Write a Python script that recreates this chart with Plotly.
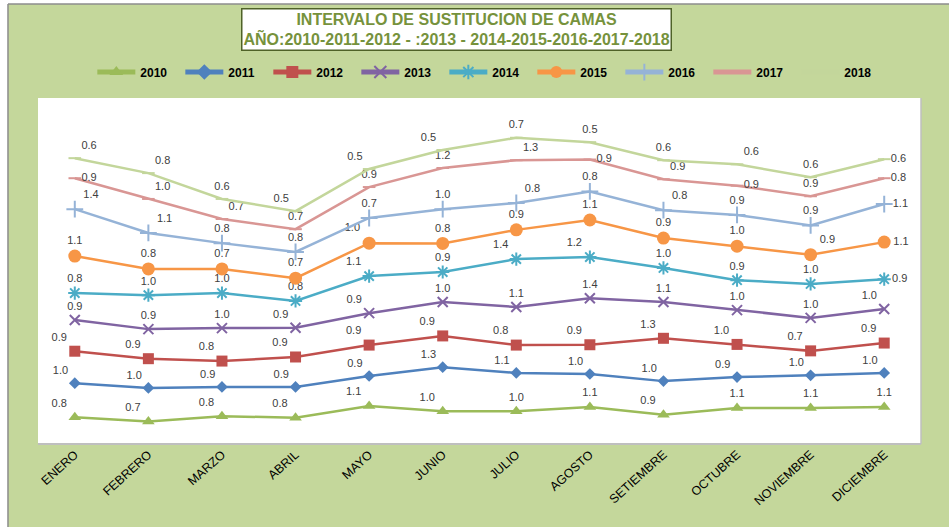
import numpy as np
import plotly.graph_objects as go

months = ["ENERO", "FEBRERO", "MARZO", "ABRIL", "MAYO", "JUNIO", "JULIO",
          "AGOSTO", "SETIEMBRE", "OCTUBRE", "NOVIEMBRE", "DICIEMBRE"]

v2010 = [0.79, 0.66, 0.82, 0.77, 1.12, 0.96, 0.96, 1.09, 0.86, 1.06, 1.06, 1.09]
v2011 = [1.00, 0.99, 0.86, 0.91, 0.88, 1.30, 1.13, 0.97, 0.99, 0.91, 0.96, 1.00]
v2012 = [0.94, 0.86, 0.76, 0.88, 0.91, 0.92, 0.82, 0.86, 1.26, 0.96, 0.72, 0.88]
v2013 = [0.92, 0.87, 0.97, 0.86, 0.94, 1.00, 1.12, 1.37, 1.07, 1.01, 0.97, 1.00]
v2014 = [0.79, 1.00, 1.03, 0.79, 1.09, 0.88, 1.41, 1.21, 1.00, 0.88, 1.00, 0.88]
v2015 = [1.09, 0.77, 0.71, 0.67, 0.97, 0.84, 0.86, 1.09, 0.88, 1.00, 0.86, 1.09]
v2016 = [1.38, 1.06, 0.76, 0.77, 0.74, 1.01, 0.79, 0.84, 0.82, 0.92, 0.86, 1.12]
v2017 = [0.91, 1.00, 0.71, 0.67, 0.91, 1.21, 1.26, 0.94, 0.91, 0.86, 0.86, 0.76]
v2018 = [0.59, 0.76, 0.59, 0.53, 0.53, 0.53, 0.66, 0.51, 0.56, 0.63, 0.56, 0.56]

years = ["2010", "2011", "2012", "2013", "2014", "2015", "2016", "2017", "2018"]
series = [v2010, v2011, v2012, v2013, v2014, v2015, v2016, v2017, v2018]

# styles
colors = ["#9BBB59", "#4F81BD", "#C0504D", "#8064A2", "#4BACC6",
          "#F79646", "#95B3D7", "#D99694", "#C3D69B"]
symbols = ["triangle-up", "diamond", "square", "x-thin-open", "asterisk-open",
           "circle", "cross-thin-open", "line-ew-open", "line-ew-open"]
msizes = [11, 9, 11, 10, 11, 13, 12, 9, 9]

TL, TC, TR, MR = "top left", "top center", "top right", "middle right"
label_pos = [
    [TL] * 6 + [TC, TC, TL, TC, TC, TC],
    [TL] * 12,
    [TL] * 12,
    [TC, TC, TC, TL, TL, TC, TC, TC, TC, TC, TC, TL],
    [TC, TC, TC, TC, TL, TC, TL, TL, TC, TC, TC, MR],
    [TC, TC, TC, TC, TL, TC, TC, TC, TC, TC, TR, MR],
    [TR, TR, TC, TC, TC, TC, TR, TC, TR, TC, TC, MR],
    [MR, TR, TR, TC, TC, TC, TR, MR, TR, MR, TC, MR],
    [TR, TR, TC, TL, TL, TL, TC, TC, TC, TR, TC, MR],
]

cum = np.cumsum(np.array(series), axis=0)

FONT = "Liberation Sans, Arial, sans-serif"

fig = go.Figure()
for i, yr in enumerate(years):
    open_sym = symbols[i].endswith("open")
    fig.add_trace(go.Scatter(
        x=months, y=cum[i], name=f"<b>{yr}</b>", mode="lines+markers+text",
        text=[f"{v:.1f}" for v in series[i]],
        textposition=label_pos[i],
        textfont=dict(family=FONT, size=11, color="#404040"),
        line=dict(color=colors[i], width=2.5),
        marker=dict(symbol=symbols[i], size=msizes[i], color=colors[i],
                    line=dict(color=colors[i], width=2 if open_sym else 0)),
        cliponaxis=False,
    ))

# frame shapes outside plot area
shapes = [
    dict(type="rect", xref="paper", yref="paper", x0=-0.1, x1=-0.034, y0=-0.4, y1=1.4,
         fillcolor="white", line=dict(width=0), layer="above"),
    dict(type="rect", xref="paper", yref="paper", x0=-0.1, x1=1.2, y0=1.2717, y1=1.4,
         fillcolor="white", line=dict(width=0), layer="above"),
    dict(type="line", xref="paper", yref="paper", x0=-0.034, x1=-0.034, y0=-0.4, y1=1.2717,
         line=dict(color="#8C8C8C", width=1.5)),
    dict(type="line", xref="paper", yref="paper", x0=-0.034, x1=1.2, y0=1.2717, y1=1.2717,
         line=dict(color="#8C8C8C", width=1.5)),
    dict(type="line", xref="paper", yref="paper", x0=0, x1=1, y0=0, y1=0,
         line=dict(color="#BFBFBF", width=2)),
    dict(type="line", xref="paper", yref="paper", x0=1, x1=1, y0=0, y1=1,
         line=dict(color="#BFBFBF", width=1.5)),
]

fig.update_layout(
    width=949, height=527,
    margin=dict(l=38, r=28, t=98, b=83, autoexpand=False),
    paper_bgcolor="#C4D79B",
    plot_bgcolor="white",
    font=dict(family=FONT),
    showlegend=True,
    legend=dict(orientation="h", x=0.51, xanchor="center", y=1.075, yanchor="middle",
                bgcolor="rgba(0,0,0,0)", itemwidth=38, entrywidth=35,
                itemsizing="constant",
                font=dict(size=12, color="#000000", family=FONT),
                traceorder="normal"),
    xaxis=dict(range=[-0.5, 11.5], showgrid=False, zeroline=False, showline=False,
               ticks="", tickangle=-42, automargin=False,
               tickfont=dict(size=12.5, color="#000000", family=FONT)),
    yaxis=dict(range=[0, 10.18], showgrid=False, zeroline=False, showticklabels=False,
               showline=False, ticks="", automargin=False),
    shapes=shapes,
    annotations=[dict(
        xref="paper", yref="paper", x=0.4745, y=1.199, xanchor="center", yanchor="middle",
        text="<b>INTERVALO DE SUSTITUCION DE CAMAS<br>AÑO:2010-2011-2012 - :2013 - 2014-2015-2016-2017-2018</b>",
        showarrow=False, align="center",
        font=dict(size=16, color="#76923C", family=FONT),
        bgcolor="white", bordercolor="#4F6228", borderwidth=1.5, borderpad=1,
    )],
)

fig.write_html("out.html", config={"displayModeBar": False},
               post_script="document.body.style.margin='0';")
